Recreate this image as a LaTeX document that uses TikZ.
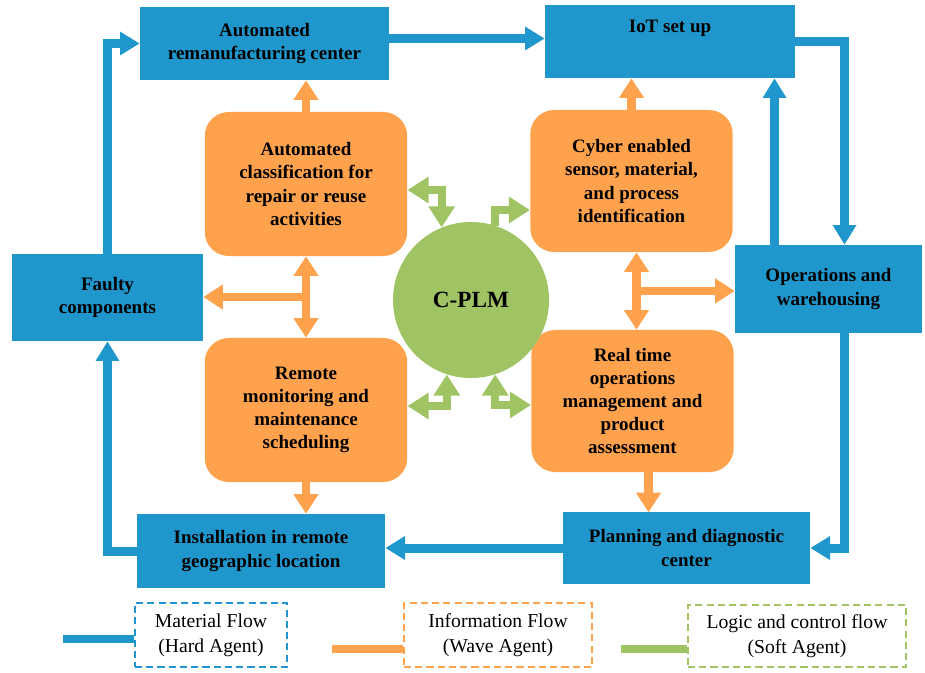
\documentclass[tikz,border=0pt]{standalone}
\usepackage{fontspec}
\setmainfont{Liberation Serif}
\usepackage{tikz}
\usetikzlibrary{arrows.meta,calc}
\definecolor{mblue}{RGB}{31,151,204}
\definecolor{morange}{RGB}{255,162,77}
\definecolor{mgreen}{RGB}{160,196,99}
\newcommand{\boxfont}{\bfseries\fontsize{13.5}{16.4}\selectfont}
\newcommand{\legfont}{\fontsize{14}{17.5}\selectfont}

\begin{document}
\begin{tikzpicture}[x=0.025cm,y=-0.025cm,
  hard/.style={fill=mblue,inner sep=0pt,align=center,font=\boxfont},
  wave/.style={fill=morange,rounded corners=0.6cm,inner sep=0pt,align=center,font=\boxfont,minimum width=5.06cm},
  legbox/.style={line width=1.1pt,dash pattern=on 5pt off 3pt,inner sep=0pt,align=center,font=\legfont},
  bluearrow/.style={draw=mblue,line width=6.4pt,-{Triangle[length=14pt,width=16pt]}},
  orangearrow/.style={draw=morange,line width=6pt,-{Triangle[length=14pt,width=17pt]}},
  orangedbl/.style={orangearrow,{Triangle[length=14pt,width=17pt]}-{Triangle[length=14pt,width=17pt]}},
  greenarrow/.style={draw=mgreen,line width=5.7pt,-{Triangle[length=15pt,width=18pt]}},
  greendbl/.style={greenarrow,{Triangle[length=15pt,width=18pt]}-{Triangle[length=15pt,width=18pt]}}]
  \useasboundingbox (0,0) rectangle (925,672);

  \node[hard,minimum width=6.225cm,minimum height=1.825cm] (reman) at (264.5,43.5) {Automated\\remanufacturing center};
  \node[hard,minimum width=6.25cm,minimum height=1.825cm] (iot) at (670,41.5) {IoT set up\\\strut};
  \node[hard,minimum width=4.675cm,minimum height=2.2cm] (ops) at (828.5,289) {Operations and\\warehousing};
  \node[hard,minimum width=6.175cm,minimum height=1.8cm] (plan) at (686.5,548) {Planning and diagnostic\\center};
  \node[hard,minimum width=6.2cm,minimum height=1.85cm] (install) at (261,551) {Installation in remote\\geographic location};
  \node[hard,minimum width=4.775cm,minimum height=2.175cm] (faulty) at (107.5,297.5) {Faulty\\components};

  \node[wave,minimum height=3.6cm] (classif) at (306,184) {Automated\\classification for\\repair or reuse\\activities};
  \node[wave,minimum height=3.55cm] (cyber) at (631.5,181) {Cyber enabled\\sensor, material,\\and process\\identification};
  \node[wave,minimum height=3.6cm] (remote) at (306,410) {Remote\\monitoring and\\maintenance\\scheduling};
  \node[wave,minimum height=3.55cm] (realtime) at (632.5,401) {Real time\\operations\\management and\\product\\assessment};
  \node[circle,fill=mgreen,minimum size=3.9cm,inner sep=0pt,font=\bfseries\fontsize{16.5}{20}\selectfont] (cplm) at (471,300) {C-PLM};

  \draw[bluearrow] ($(reman.east)+(0,-5)$) -- ($(iot.west)+(0,-3)$);
  \draw[bluearrow] (iot.east) -| ($(ops.north)+(16,0)$);
  \coordinate (opsup) at ($(ops.north)+(-54,0)$);
  \draw[bluearrow] (opsup) -- (opsup |- iot.south);
  \draw[bluearrow] ($(ops.south)+(16,0)$) |- (plan.east);
  \draw[bluearrow] (plan.west) -- (plan.west -| install.east);
  \draw[bluearrow] (install.west) -| (faulty.south);
  \draw[bluearrow] (faulty.north) |- (reman.west);

  \draw[orangearrow] (classif.north) -- (classif.north |- reman.south);
  \draw[orangearrow] (cyber.north) -- (cyber.north |- iot.south);
  \draw[orangedbl] (classif.south) -- (remote.north);
  \coordinate (lj) at ($(classif.south)!.5!(remote.north)$);
  \draw[orangearrow] (lj) -- (lj -| faulty.east);
  \draw[orangedbl] ($(cyber.south)+(5,0)$) -- ($(realtime.north)+(4,0)$);
  \coordinate (rj) at ($(cyber.south)!.5!(realtime.north)+(5,0)$);
  \draw[orangearrow] (rj) -- (rj -| ops.west);
  \draw[orangearrow] (remote.south) -- (remote.south |- install.north);
  \draw[orangearrow] ($(realtime.south)+(16,0)$) -- ++(0,40);

  \draw[greendbl] ($(classif.east)+(0,6)$) -| (cplm.112);
  \draw[greenarrow] (cplm.72) |- ($(cyber.west)+(0,29)$);
  \draw[greendbl] (cplm.252) |- ($(remote.east)+(0,-4)$);
  \draw[greendbl] (cplm.288) |- ($(realtime.west)+(0,4)$);

  \node[legbox,draw=mblue,minimum width=3.8cm,minimum height=1.6cm] (leghard) at (211,635) {Material Flow\\(Hard Agent)};
  \node[legbox,draw=morange,minimum width=4.7cm,minimum height=1.6cm] (legwave) at (498,635) {Information Flow\\(Wave Agent)};
  \node[legbox,draw=mgreen,minimum width=5.45cm,minimum height=1.55cm] (legsoft) at (797,636) {Logic and control flow\\(Soft Agent)};
  \coordinate (hardend) at (63,639);
  \coordinate (waveend) at (332,649);
  \coordinate (softend) at (621,649);
  \draw[mblue,line width=5.7pt] (hardend) -- (hardend -| leghard.west);
  \draw[morange,line width=5.7pt] (waveend) -- (waveend -| legwave.west);
  \draw[mgreen,line width=5.7pt] (softend) -- (softend -| legsoft.west);
\end{tikzpicture}
\end{document}
